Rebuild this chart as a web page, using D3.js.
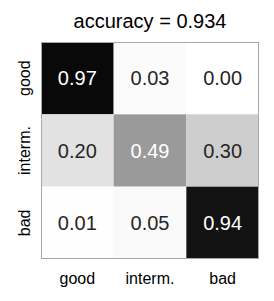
<!DOCTYPE html>
<html>
<head>
<meta charset="utf-8">
<script src="https://cdn.jsdelivr.net/npm/d3@7"></script>
<style>
  body { margin: 0; background: #fff; }
  text { font-family: "Liberation Sans", Arial, sans-serif; }
</style>
</head>
<body>
<div id="chart"></div>
<script>
    // confusion matrix data (rows = true class, cols = predicted)
    var classes = ['good', 'interm.', 'bad'];
    var matrix = [
        [0.97, 0.03, 0.00],
        [0.20, 0.49, 0.30],
        [0.01, 0.05, 0.94]
    ];
    var accuracy = 0.934;

    var WIDTH = 274, HEIGHT = 301;
    var MARGINS = {top: 42, right: 15, bottom: 42, left: 41};

    var plotW = WIDTH - MARGINS.left - MARGINS.right;
    var plotH = HEIGHT - MARGINS.top - MARGINS.bottom;

    var svg = d3.select('#chart')
        .append('svg')
        .attr('width', WIDTH)
        .attr('height', HEIGHT);

    var g = svg.append('g')
        .attr('transform', 'translate(' + MARGINS.left + ',' + MARGINS.top + ')');

    var x = d3.scaleBand().domain(classes).range([0, plotW]);
    var y = d3.scaleBand().domain(classes).range([0, plotH]);
    var color = d3.scaleSequential(d3.interpolateGreys).domain([0, 1]);

    // flatten the matrix into cells
    var cells = [];
    matrix.forEach(function(row, i) {
        row.forEach(function(v, j) {
            cells.push({row: classes[i], col: classes[j], value: v});
        });
    });

    g.selectAll('rect.cell')
        .data(cells)
        .enter().append('rect')
        .attr('class', 'cell')
        .attr('x', function(d) { return x(d.col); })
        .attr('y', function(d) { return y(d.row); })
        .attr('width', x.bandwidth())
        .attr('height', y.bandwidth())
        .attr('fill', function(d) { return color(d.value); });

    g.selectAll('text.val')
        .data(cells)
        .enter().append('text')
        .attr('class', 'val')
        .attr('x', function(d) { return x(d.col) + x.bandwidth() / 2; })
        .attr('y', function(d) { return y(d.row) + y.bandwidth() / 2; })
        .attr('dy', '0.36em')
        .attr('text-anchor', 'middle')
        .attr('font-size', 20)
        .attr('fill', function(d) { return d.value > 0.45 ? '#ffffff' : '#262626'; })
        .text(function(d) { return d3.format('.2f')(d.value); });

    // frame
    g.append('rect')
        .attr('x', 0.5)
        .attr('y', 0.5)
        .attr('width', plotW - 1)
        .attr('height', plotH - 1)
        .attr('fill', 'none')
        .attr('stroke', '#a8a8a8')
        .attr('stroke-width', 1);

    // x axis labels (no tick marks)
    var xAxis = d3.axisBottom(x).tickSize(0).tickPadding(14);
    g.append('g')
        .attr('class', 'x axis')
        .attr('transform', 'translate(0,' + plotH + ')')
        .call(xAxis)
        .call(function(sel) { sel.select('.domain').remove(); })
        .selectAll('text')
        .attr('font-size', 16)
        .attr('fill', '#000');

    // y axis labels, rotated
    var yAxis = d3.axisLeft(y).tickSize(0);
    g.append('g')
        .attr('class', 'y axis')
        .call(yAxis)
        .call(function(sel) { sel.select('.domain').remove(); })
        .selectAll('text')
        .attr('font-size', 16)
        .attr('fill', '#000')
        .attr('text-anchor', 'middle')
        .attr('x', 0)
        .attr('y', 0)
        .attr('dy', 0)
        .attr('transform', 'translate(-11,0) rotate(-90)');

    svg.selectAll('.axis text').attr('font-family', '"Liberation Sans", Arial, sans-serif');

    // title
    svg.append('text')
        .attr('x', MARGINS.left + plotW / 2)
        .attr('y', 27.5)
        .attr('text-anchor', 'middle')
        .attr('font-size', 20)
        .attr('fill', '#000')
        .text('accuracy = ' + accuracy);
</script>
</body>
</html>
